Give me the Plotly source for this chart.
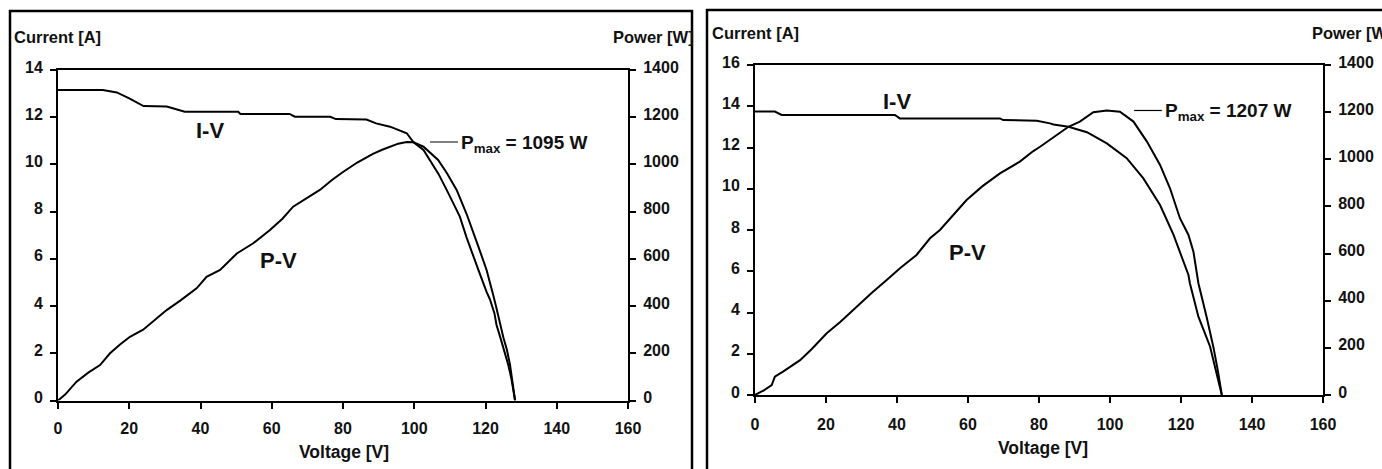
import plotly.graph_objects as go

W, H = 1382, 469
FONT = "Arial, 'Liberation Sans', sans-serif"
INK = "#111111"

# ---- Left panel: module characteristic with P_max = 1095 W ----
volt_iv_a = [0, 12.6, 16.5, 20.0, 24.0, 30.5, 35.6, 50.6, 51.2, 65.0, 66.5, 76.4, 78.0, 86.6,
             89.3, 93.2, 97.9, 99.8, 102.6, 104.4, 106.8, 109.1, 111.0, 112.8, 114.7, 116.6,
             118.0, 120.3, 121.3, 122.5, 123.1, 124.3, 125.5, 126.4, 127.3, 128.3]
curr_a = [13.15, 13.15, 13.05, 12.8, 12.47, 12.45, 12.23, 12.23, 12.14, 12.14, 12.02, 12.02, 11.92, 11.9,
          11.74, 11.6, 11.32, 10.94, 10.61, 10.19, 9.6, 8.92, 8.35, 7.79, 6.9, 6.15,
          5.53, 4.6, 4.26, 3.7, 3.2, 2.6, 2.0, 1.5, 0.9, 0.0]

volt_pv_a = [0, 2.0, 5.2, 8.5, 11.8, 14.6, 17.5, 20.2, 23.9, 27.0, 30.5, 34.5, 38.9, 41.7, 45.5,
             50.2, 54.8, 59.5, 63.0, 66.0, 70.0, 73.5, 77.0, 80.0, 84.0, 88.4, 91.0, 93.2, 95.5,
             97.9, 99.8, 102.6, 104.4, 106.7, 109.1, 111.9, 114.7, 116.6, 118.0, 120.3, 121.3,
             122.2, 123.1, 124.0, 125.0, 126.0, 126.9, 128.3]
power_a = [0, 25, 80, 118, 150, 200, 238, 270, 300, 338, 383, 425, 475, 524, 553,
           623, 666, 722, 770, 821, 860, 892, 935, 968, 1008, 1045, 1062, 1075, 1088,
           1095, 1094, 1075, 1052, 1019, 965, 892, 790, 715, 652, 553, 500,
           445, 390, 325, 268, 215, 150, 0]

# ---- Right panel: module characteristic with P_max = 1207 W ----
volt_iv_b = [0, 5.6, 7.5, 39.4, 40.8, 69.0, 69.9, 79.4, 83.1, 84.1, 88.3, 93.5, 99.1, 104.7,
             109.4, 114.1, 117.9, 118.8, 120.7, 122.1, 122.5, 124.9, 126.5, 128.2, 129.8, 131.5]
curr_b = [13.74, 13.74, 13.58, 13.58, 13.41, 13.41, 13.33, 13.3, 13.17, 13.12, 13.01, 12.74, 12.2, 11.48,
          10.5, 9.21, 7.76, 7.34, 6.46, 5.82, 5.42, 3.8, 3.1, 2.34, 1.2, 0]

volt_pv_b = [0, 2.5, 4.7, 5.6, 8.0, 12.7, 16.0, 20.2, 24.0, 28.6, 33.0, 37.1, 41.0, 45.5, 49.3,
             52.1, 56.0, 59.6, 64.0, 69.0, 74.6, 78.4, 80.3, 83.1, 85.9, 88.3, 91.5, 95.3, 99.1,
             102.8, 106.6, 110.4, 114.1, 116.9, 119.7, 122.1, 123.5, 124.5, 124.9, 127.2, 129.1,
             130.3, 131.5]
power_b = [0, 20, 42, 78, 100, 148, 195, 262, 310, 375, 435, 488, 540, 594, 665,
           700, 765, 827, 885, 940, 990, 1035, 1053, 1083, 1112, 1138, 1160, 1200, 1207,
           1202, 1160, 1075, 976, 877, 750, 679, 608, 523, 474, 332, 205,
           110, 0]

volt_ticks = [0, 20, 40, 60, 80, 100, 120, 140, 160]
power_ticks = [0, 200, 400, 600, 800, 1000, 1200, 1400]
curr_ticks_a = [0, 2, 4, 6, 8, 10, 12, 14]
curr_ticks_b = [0, 2, 4, 6, 8, 10, 12, 14, 16]


def fx(px):
    return px / W


def fy(py):
    return 1 - py / H


line_style = dict(color="black", width=2)
fig = go.Figure()
fig.add_trace(go.Scatter(x=volt_iv_a, y=curr_a, mode="lines", line=line_style, xaxis="x", yaxis="y"))
fig.add_trace(go.Scatter(x=volt_pv_a, y=power_a, mode="lines", line=line_style, xaxis="x", yaxis="y2"))
fig.add_trace(go.Scatter(x=volt_iv_b, y=curr_b, mode="lines", line=line_style, xaxis="x2", yaxis="y3"))
fig.add_trace(go.Scatter(x=volt_pv_b, y=power_b, mode="lines", line=line_style, xaxis="x2", yaxis="y4"))

tick_font = dict(family=FONT, size=16, color=INK, weight="bold")
axis_common = dict(showline=True, linecolor="black", linewidth=2, ticks="outside", ticklen=6,
                   tickwidth=2, tickcolor="black", showgrid=False, zeroline=False,
                   tickfont=tick_font, fixedrange=True, automargin=False)
y_common = dict(axis_common, ticklabelstandoff=4, ticklabelshift=-3)

fig.update_layout(
    template="none",
    width=W, height=H, autosize=False,
    margin=dict(l=0, r=0, t=0, b=0, pad=0),
    paper_bgcolor="white", plot_bgcolor="white",
    showlegend=False,
    xaxis=dict(domain=[fx(58), fx(628)], range=[0, 160], tickvals=volt_ticks, mirror=True,
               anchor="y", ticklabelstandoff=6, **axis_common),
    yaxis=dict(domain=[fy(400.5), fy(70)], range=[0, 14], tickvals=curr_ticks_a, anchor="x",
               **y_common),
    yaxis2=dict(range=[0, 1400], tickvals=power_ticks, overlaying="y", side="right", anchor="x",
                **y_common),
    xaxis2=dict(domain=[fx(755), fx(1323)], range=[0, 160], tickvals=volt_ticks, mirror=True,
                anchor="y3", ticklabelstandoff=8, **axis_common),
    yaxis3=dict(domain=[fy(395), fy(65)], range=[0, 16], tickvals=curr_ticks_b, anchor="x2",
                **y_common),
    yaxis4=dict(range=[0, 1400], tickvals=power_ticks, overlaying="y3", side="right", anchor="x2",
                **y_common),
)

# Outer frames around each panel
frame = dict(color="black", width=2.5)
fig.add_shape(type="path", xref="paper", yref="paper", line=frame,
              path=f"M {fx(10)},{fy(480)} L {fx(10)},{fy(11)} L {fx(692)},{fy(11)} L {fx(692)},{fy(480)}")
fig.add_shape(type="path", xref="paper", yref="paper", line=frame,
              path=f"M {fx(707)},{fy(480)} L {fx(707)},{fy(10)} L {fx(1395)},{fy(10)}")

title_font = dict(family=FONT, size=16.5, color=INK, weight="bold")
label_font = dict(family=FONT, size=22, color=INK, weight="bold")


def paper_text(text, x, y, xanchor, font):
    fig.add_annotation(text=text, x=fx(x), y=fy(y), xref="paper", yref="paper",
                       xanchor=xanchor, yanchor="middle", showarrow=False, font=font)


# Axis titles
paper_text("Current [A]", 12, 37.5, "left", title_font)
paper_text("Power [W]", 611, 37.5, "left", title_font)
paper_text("Voltage [V]", 344, 452, "center", dict(title_font, size=17.5))
paper_text("Current [A]", 710, 33, "left", title_font)
paper_text("Power [W]", 1310, 33, "left", title_font)
paper_text("Voltage [V]", 1043, 447.5, "center", dict(title_font, size=17.5))

# Curve labels
fig.add_annotation(text="I-V", x=42.7, y=11.42, xref="x", yref="y", showarrow=False, font=label_font)
fig.add_annotation(text="P-V", x=62.0, y=5.91, xref="x", yref="y", showarrow=False, font=label_font)
fig.add_annotation(text="I-V", x=39.9, y=14.25, xref="x2", yref="y3", showarrow=False, font=label_font)
fig.add_annotation(text="P-V", x=59.9, y=6.93, xref="x2", yref="y3", showarrow=False, font=label_font)

# Maximum-power callouts with leader lines at the P_max level
pmax_font = dict(family=FONT, size=19, color=INK, weight="bold")
for xr, yr, pmax, x0, x1 in [("x", "y2", max(power_a), 104.4, 112.3),
                             ("x2", "y4", max(power_b), 106.8, 114.6)]:
    fig.add_shape(type="line", xref=xr, yref=yr, x0=x0, x1=x1, y0=pmax, y1=pmax,
                  line=dict(color="black", width=1.2))
    fig.add_annotation(text=f"P<sub>max</sub> = {pmax} W", x=x1 + 0.4, y=pmax, xref=xr, yref=yr,
                       xanchor="left", yanchor="middle", showarrow=False, font=pmax_font, yshift=-2)

fig.write_html("out.html")
